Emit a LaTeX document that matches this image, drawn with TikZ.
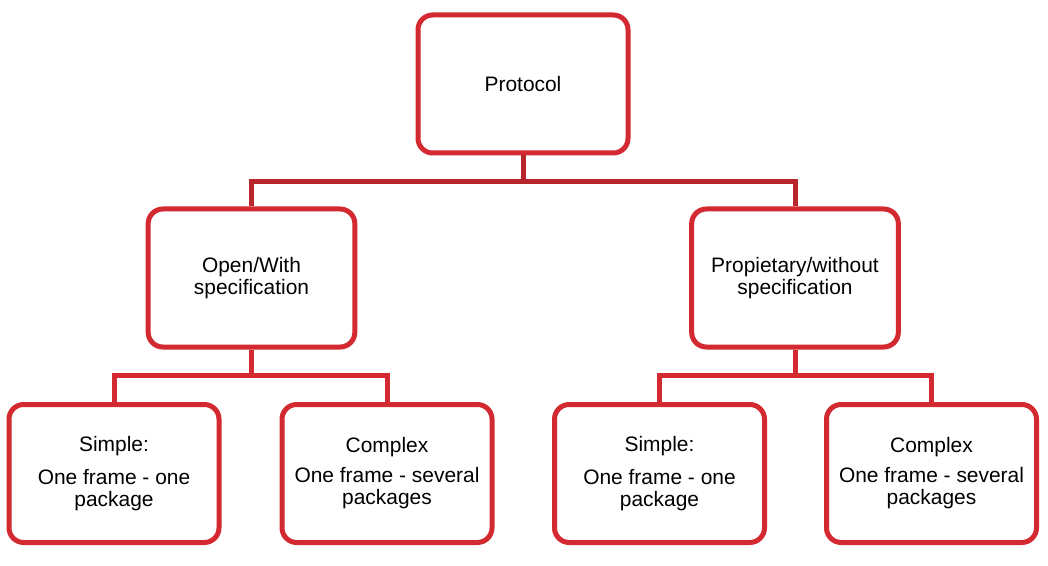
\documentclass[tikz,border=0pt]{standalone}
\usepackage{fontspec}
\setmainfont{Liberation Sans}
\definecolor{boxred}{RGB}{210,42,48}
\definecolor{busred}{RGB}{183,37,45}
\tikzset{
  box/.style={draw=boxred, line width=3.75pt, rounded corners=11pt, fill=white,
    minimum width=157.5pt, minimum height=103.5pt, inner sep=0pt, align=center,
    font=\fontsize{15.7}{16.5}\selectfont},
  bus/.style={line width=3.75pt},
}
\begin{document}
\begin{tikzpicture}[x=0.75pt, y=-0.75pt]
    \useasboundingbox (0, 0) rectangle (1048, 566);

      \node[box] (proto) at(523, 84){Protocol};
      \node[box, minimum width=155pt] (open) at(251.5, 278){Open/With\\specification};
      \node[box, minimum width=155pt] (prop) at(795, 278){Propietary/without\\specification};

        \node[box] (opensimple) at(114, 473.5){Simple:\\[8pt]One frame - one\\package};
        \node[box] (opencomplex) at(387, 473.5){Complex\\[6pt]One frame - several\\packages};
        \node[box] (propsimple) at(659.5, 473.5){Simple:\\[8pt]One frame - one\\package};
        \node[box] (propcomplex) at(931.5, 473.5){Complex\\[6pt]One frame - several\\packages};

      \coordinate (bustop) at(523, 182);
      \coordinate (busopen) at(251.5, 375);
      \coordinate (busprop) at(795, 375);

      \draw[bus, busred] (proto.south) to (bustop);
      \draw[bus, busred] (open.north) |- (bustop) -| (prop.north);

        \draw[bus, boxred] (open.south) to (busopen);
        \draw[bus, boxred] (opensimple.north) |- (busopen) -| (opencomplex.north);
        \draw[bus, boxred] (prop.south) to (busprop);
        \draw[bus, boxred] (propsimple.north) |- (busprop) -| (propcomplex.north);

    \end{tikzpicture}
\end{document}
